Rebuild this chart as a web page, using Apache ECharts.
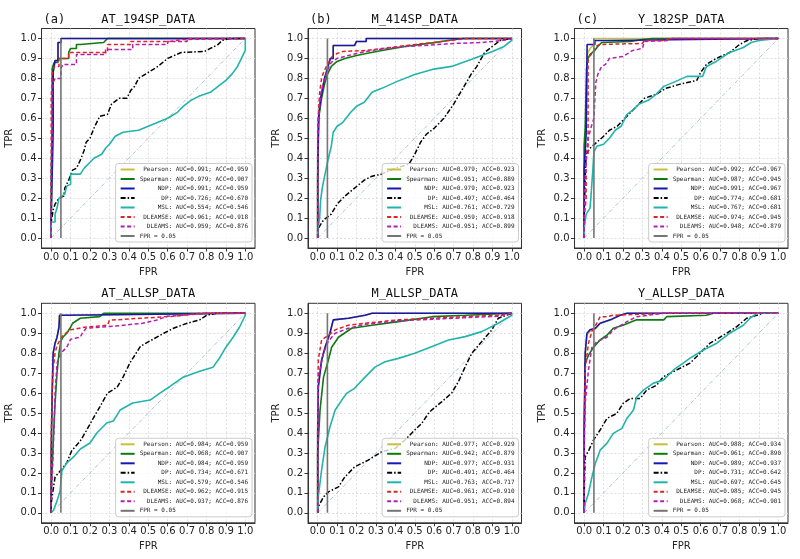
<!DOCTYPE html>
<html><head><meta charset="utf-8">
<script src="https://cdn.jsdelivr.net/npm/echarts@6/dist/echarts.min.js"></script>
<style>html,body{margin:0;padding:0;background:#fff}#c{width:800px;height:559px}</style>
</head><body><div id="c"></div>
<script>
// ---------- data ----------
const panelTitles = ['AT_194SP_DATA','M_414SP_DATA','Y_182SP_DATA','AT_ALLSP_DATA','M_ALLSP_DATA','Y_ALLSP_DATA'];
const panelTags = ['(a)','(b)','(c)','','',''];
const methods = ['Pearson','Spearman','NDP','DP','MSL','DLEAMSE','DLEAMS'];
const tickValues = [0,0.1,0.2,0.3,0.4,0.5,0.6,0.7,0.8,0.9,1.0];

const auc = [
  [0.991,0.979,0.991,0.726,0.554,0.961,0.959],
  [0.979,0.951,0.979,0.497,0.761,0.959,0.951],
  [0.992,0.987,0.991,0.774,0.767,0.974,0.948],
  [0.984,0.968,0.984,0.734,0.579,0.962,0.937],
  [0.977,0.942,0.977,0.491,0.763,0.961,0.951],
  [0.988,0.961,0.989,0.731,0.697,0.985,0.968]
];
const acc = [
  [0.959,0.907,0.959,0.670,0.546,0.918,0.876],
  [0.923,0.889,0.923,0.464,0.729,0.918,0.899],
  [0.967,0.945,0.967,0.681,0.681,0.945,0.879],
  [0.959,0.907,0.959,0.671,0.546,0.915,0.876],
  [0.929,0.879,0.931,0.464,0.717,0.910,0.894],
  [0.934,0.890,0.937,0.642,0.645,0.945,0.901]
];
const fprLine = [[0.05,0],[0.05,1]];
const diagLine = [[0,0],[1,1]];

// (a) AT_194SP
const a_ndp = [[0,0],[0,0.1],[0.01,0.55],[0.01,0.83],[0.02,0.83],[0.02,0.89],[0.035,0.89],[0.035,0.98],[0.05,0.98],[0.05,1],[1,1]];
const a_pearson = a_ndp;
const a_spearman = [[0,0],[0,0.3],[0.005,0.6],[0.005,0.85],[0.015,0.85],[0.015,0.88],[0.035,0.88],[0.035,0.9],[0.09,0.9],[0.09,0.93],[0.1,0.93],[0.1,0.95],[0.13,0.95],[0.13,0.97],[0.15,0.97],[0.15,0.98],[0.27,0.98],[0.29,1],[1,1]];
const a_dp = [[0,0],[0,0.08],[0.01,0.14],[0.02,0.17],[0.04,0.2],[0.065,0.21],[0.07,0.25],[0.09,0.29],[0.11,0.34],[0.13,0.35],[0.15,0.39],[0.17,0.44],[0.18,0.48],[0.2,0.5],[0.22,0.55],[0.25,0.61],[0.29,0.62],[0.31,0.67],[0.35,0.7],[0.39,0.7],[0.41,0.74],[0.43,0.76],[0.45,0.8],[0.5,0.83],[0.55,0.86],[0.6,0.9],[0.67,0.93],[0.79,0.935],[0.82,0.95],[0.86,0.97],[0.88,0.99],[0.92,1],[1,1]];
const a_msl = [[0,0],[0,0.08],[0.02,0.08],[0.02,0.12],[0.03,0.15],[0.04,0.2],[0.07,0.22],[0.08,0.26],[0.1,0.27],[0.1,0.32],[0.15,0.32],[0.17,0.35],[0.2,0.38],[0.22,0.4],[0.26,0.42],[0.28,0.45],[0.3,0.47],[0.33,0.51],[0.37,0.53],[0.45,0.54],[0.5,0.56],[0.55,0.58],[0.6,0.6],[0.65,0.63],[0.68,0.66],[0.72,0.69],[0.76,0.71],[0.82,0.73],[0.86,0.76],[0.9,0.79],[0.93,0.82],[0.96,0.86],[0.98,0.9],[1,0.94],[1,1]];
const a_dleamse = [[0,0],[0,0.7],[0.005,0.7],[0.005,0.82],[0.015,0.82],[0.015,0.86],[0.04,0.86],[0.04,0.9],[0.09,0.9],[0.09,0.93],[0.29,0.93],[0.29,0.97],[0.41,0.97],[0.41,0.985],[0.61,0.985],[0.61,0.995],[0.68,0.995],[0.68,1],[1,1]];
const a_dleams = [[0,0],[0,0.3],[0.005,0.5],[0.005,0.7],[0.01,0.78],[0.02,0.8],[0.05,0.8],[0.05,0.85],[0.06,0.87],[0.13,0.87],[0.13,0.92],[0.28,0.92],[0.28,0.945],[0.42,0.945],[0.42,0.97],[0.6,0.97],[0.6,0.985],[0.7,0.985],[0.7,1],[1,1]];

// (b) M_414SP
const b_ndp = [[0,0],[0,0.3],[0.005,0.61],[0.015,0.7],[0.025,0.75],[0.035,0.8],[0.05,0.85],[0.065,0.9],[0.08,0.9],[0.08,0.965],[0.19,0.965],[0.2,0.985],[0.25,0.985],[0.25,1],[1,1]];
const b_pearson = b_ndp;
const b_spearman = [[0,0],[0,0.4],[0.005,0.6],[0.02,0.7],[0.035,0.77],[0.05,0.82],[0.07,0.86],[0.1,0.885],[0.14,0.9],[0.2,0.915],[0.25,0.925],[0.33,0.94],[0.45,0.96],[0.59,0.978],[0.67,0.99],[0.75,1],[1,1]];
const b_dp = [[0,0],[0,0.04],[0.01,0.06],[0.03,0.09],[0.07,0.12],[0.1,0.17],[0.14,0.21],[0.19,0.25],[0.24,0.29],[0.28,0.31],[0.33,0.32],[0.4,0.35],[0.47,0.37],[0.5,0.42],[0.53,0.48],[0.56,0.52],[0.6,0.55],[0.65,0.6],[0.7,0.67],[0.73,0.72],[0.76,0.77],[0.79,0.82],[0.82,0.86],[0.86,0.93],[0.9,0.96],[0.94,0.99],[1,1]];
const b_msl = [[0,0],[0,0.04],[0.01,0.1],[0.015,0.19],[0.025,0.26],[0.04,0.33],[0.055,0.4],[0.07,0.46],[0.08,0.53],[0.1,0.56],[0.13,0.58],[0.17,0.63],[0.2,0.66],[0.24,0.68],[0.28,0.73],[0.33,0.75],[0.41,0.785],[0.5,0.82],[0.59,0.845],[0.69,0.86],[0.79,0.895],[0.9,0.935],[0.96,0.96],[1,0.99],[1,1]];
const b_dleamse = [[0,0],[0,0.55],[0.005,0.65],[0.01,0.73],[0.02,0.8],[0.03,0.83],[0.05,0.87],[0.075,0.91],[0.1,0.925],[0.13,0.935],[0.25,0.94],[0.33,0.95],[0.42,0.96],[0.5,0.97],[0.6,0.98],[0.68,0.99],[0.77,1],[1,1]];
const b_dleams = [[0,0],[0,0.5],[0.005,0.6],[0.015,0.72],[0.03,0.78],[0.05,0.84],[0.07,0.88],[0.1,0.9],[0.14,0.91],[0.2,0.925],[0.28,0.94],[0.35,0.95],[0.45,0.96],[0.55,0.965],[0.7,0.975],[0.85,0.98],[0.95,0.99],[1,1]];

// (c) Y_182SP
const c_pearson = [[0,0],[0,0.45],[0.01,0.55],[0.015,0.92],[0.03,0.95],[0.05,0.97],[0.05,1],[1,1]];
const c_spearman = [[0,0],[0,0.47],[0.005,0.55],[0.01,0.55],[0.012,0.85],[0.02,0.9],[0.03,0.92],[0.05,0.935],[0.07,0.96],[0.09,0.98],[0.24,0.985],[0.3,0.995],[0.35,1],[1,1]];
const c_ndp = [[0,0],[0,0.35],[0.005,0.43],[0.01,0.43],[0.01,0.52],[0.015,0.52],[0.015,0.97],[0.055,0.97],[0.055,0.99],[0.12,0.99],[0.12,1],[1,1]];
const c_dp = [[0,0],[0,0.1],[0.005,0.3],[0.01,0.42],[0.03,0.45],[0.065,0.48],[0.1,0.51],[0.13,0.54],[0.17,0.56],[0.21,0.6],[0.24,0.63],[0.27,0.66],[0.31,0.7],[0.37,0.72],[0.42,0.75],[0.49,0.77],[0.58,0.79],[0.6,0.83],[0.63,0.87],[0.68,0.9],[0.75,0.93],[0.8,0.97],[0.84,0.99],[0.9,1],[1,1]];
const c_msl = [[0,0],[0,0.05],[0.01,0.12],[0.02,0.12],[0.03,0.15],[0.035,0.21],[0.045,0.35],[0.05,0.43],[0.065,0.46],[0.1,0.47],[0.13,0.5],[0.16,0.54],[0.19,0.56],[0.22,0.62],[0.25,0.64],[0.28,0.67],[0.33,0.69],[0.37,0.72],[0.41,0.76],[0.46,0.78],[0.53,0.81],[0.61,0.81],[0.63,0.86],[0.68,0.885],[0.75,0.93],[0.82,0.955],[0.86,0.98],[0.9,0.99],[0.9,1],[1,1]];
const c_dleamse = [[0,0],[0,0.1],[0.01,0.2],[0.01,0.4],[0.02,0.42],[0.02,0.9],[0.035,0.92],[0.05,0.94],[0.06,0.96],[0.08,0.97],[0.3,0.975],[0.31,0.99],[0.4,0.99],[0.45,1],[1,1]];
const c_dleams = [[0,0],[0,0.1],[0.005,0.3],[0.01,0.4],[0.02,0.5],[0.04,0.57],[0.05,0.6],[0.055,0.7],[0.06,0.78],[0.07,0.82],[0.09,0.86],[0.11,0.87],[0.13,0.9],[0.2,0.91],[0.25,0.94],[0.3,0.95],[0.31,0.985],[0.43,0.99],[0.45,1],[1,1]];

// (d) AT_ALLSP
const d_ndp = [[0,0],[0,0.3],[0.005,0.6],[0.01,0.8],[0.02,0.85],[0.03,0.88],[0.04,0.93],[0.043,0.99],[0.07,0.99],[0.08,1],[1,1]];
const d_pearson = d_ndp;
const d_spearman = [[0,0],[0,0.1],[0.01,0.35],[0.02,0.55],[0.03,0.7],[0.04,0.8],[0.05,0.86],[0.06,0.88],[0.08,0.9],[0.1,0.93],[0.11,0.95],[0.15,0.975],[0.25,0.983],[0.27,1],[1,1]];
const d_dp = [[0,0],[0,0.05],[0.02,0.18],[0.046,0.21],[0.08,0.25],[0.105,0.31],[0.15,0.36],[0.18,0.41],[0.22,0.48],[0.25,0.53],[0.29,0.6],[0.34,0.63],[0.37,0.68],[0.405,0.75],[0.46,0.835],[0.525,0.87],[0.58,0.9],[0.63,0.925],[0.7,0.95],[0.765,0.967],[0.8,0.99],[0.85,1],[1,1]];
const d_msl = [[0,0],[0.012,0.013],[0.03,0.06],[0.046,0.11],[0.055,0.21],[0.08,0.25],[0.115,0.28],[0.15,0.32],[0.2,0.35],[0.235,0.4],[0.286,0.45],[0.32,0.46],[0.355,0.515],[0.42,0.55],[0.51,0.565],[0.56,0.6],[0.61,0.632],[0.68,0.68],[0.765,0.71],[0.834,0.73],[0.87,0.78],[0.9,0.83],[0.937,0.88],[0.97,0.93],[1,0.99],[1,1]];
const d_dleamse = [[0,0],[0,0.4],[0.005,0.6],[0.01,0.72],[0.02,0.8],[0.03,0.84],[0.06,0.89],[0.1,0.917],[0.17,0.93],[0.29,0.94],[0.3,0.965],[0.46,0.975],[0.63,0.985],[0.77,1],[1,1]];
const d_dleams = [[0,0],[0,0.05],[0.01,0.3],[0.02,0.6],[0.03,0.75],[0.05,0.8],[0.08,0.83],[0.1,0.87],[0.15,0.88],[0.16,0.9],[0.18,0.925],[0.32,0.935],[0.47,0.95],[0.54,0.965],[0.6,0.985],[0.75,0.995],[0.8,1],[1,1]];

// (e) M_ALLSP
const e_ndp = [[0,0],[0,0.4],[0.003,0.63],[0.02,0.765],[0.038,0.83],[0.063,0.9],[0.08,0.967],[0.158,0.975],[0.244,0.99],[0.28,1],[1,1]];
const e_pearson = e_ndp;
const e_spearman = [[0,0],[0,0.3],[0.012,0.515],[0.03,0.68],[0.055,0.766],[0.072,0.83],[0.107,0.88],[0.175,0.925],[0.28,0.94],[0.416,0.958],[0.59,0.983],[0.76,0.99],[1,1]];
const e_dp = [[0,0],[0.003,0.03],[0.03,0.08],[0.055,0.105],[0.107,0.13],[0.14,0.18],[0.19,0.23],[0.26,0.264],[0.33,0.306],[0.4,0.323],[0.45,0.365],[0.5,0.415],[0.536,0.448],[0.57,0.498],[0.587,0.515],[0.64,0.557],[0.69,0.6],[0.725,0.657],[0.76,0.732],[0.794,0.8],[0.845,0.858],[0.897,0.916],[0.93,0.975],[1,1]];
const e_msl = [[0,0],[0.003,0.08],[0.02,0.214],[0.038,0.33],[0.063,0.43],[0.09,0.515],[0.124,0.565],[0.15,0.6],[0.19,0.624],[0.244,0.68],[0.295,0.73],[0.347,0.757],[0.416,0.774],[0.5,0.8],[0.59,0.833],[0.674,0.866],[0.76,0.883],[0.845,0.908],[0.93,0.95],[1,0.99],[1,1]];
const e_dleamse = [[0,0],[0,0.5],[0.003,0.766],[0.02,0.866],[0.055,0.89],[0.09,0.917],[0.158,0.94],[0.244,0.95],[0.416,0.967],[0.59,0.975],[0.76,0.983],[0.93,0.99],[1,1]];
const e_dleams = [[0,0],[0,0.45],[0.003,0.68],[0.03,0.8],[0.055,0.86],[0.09,0.9],[0.158,0.925],[0.244,0.945],[0.416,0.962],[0.59,0.97],[0.76,0.978],[0.93,0.985],[1,1]];

// (f) Y_ALLSP
const f_pearson = [[0,0],[0,0.4],[0.005,0.79],[0.014,0.89],[0.03,0.91],[0.057,0.92],[0.082,0.95],[0.134,0.965],[0.185,0.99],[0.22,1],[1,1]];
const f_spearman = [[0,0],[0,0.4],[0.005,0.75],[0.022,0.79],[0.048,0.83],[0.082,0.866],[0.117,0.89],[0.15,0.925],[0.2,0.94],[0.27,0.967],[0.41,0.967],[0.425,0.983],[0.63,0.99],[0.665,1],[1,1]];
const f_ndp = [[0,0],[0,0.4],[0.005,0.8],[0.014,0.9],[0.03,0.917],[0.057,0.925],[0.082,0.95],[0.134,0.967],[0.185,0.99],[0.22,1],[1,1]];
const f_dp = [[0,0],[0,0.1],[0.005,0.28],[0.022,0.31],[0.048,0.365],[0.082,0.415],[0.117,0.473],[0.168,0.498],[0.2,0.548],[0.237,0.573],[0.288,0.573],[0.322,0.615],[0.374,0.64],[0.408,0.682],[0.477,0.716],[0.545,0.75],[0.597,0.8],[0.648,0.85],[0.717,0.89],[0.786,0.933],[0.837,0.975],[0.89,0.99],[0.92,1],[1,1]];
const f_msl = [[0,0],[0.005,0.047],[0.022,0.097],[0.04,0.18],[0.057,0.247],[0.082,0.314],[0.117,0.348],[0.15,0.398],[0.194,0.423],[0.22,0.473],[0.254,0.515],[0.27,0.58],[0.305,0.615],[0.357,0.65],[0.408,0.665],[0.46,0.716],[0.51,0.75],[0.545,0.775],[0.614,0.816],[0.683,0.85],[0.75,0.9],[0.82,0.94],[0.854,0.975],[0.89,1],[1,1]];
const f_dleamse = [[0,0],[0,0.4],[0.005,0.716],[0.022,0.85],[0.04,0.91],[0.065,0.95],[0.082,0.983],[0.117,0.983],[0.15,0.99],[0.41,1],[1,1]];
const f_dleams = [[0,0],[0,0.3],[0.005,0.55],[0.022,0.716],[0.04,0.833],[0.065,0.858],[0.117,0.88],[0.15,0.917],[0.22,0.958],[0.27,0.983],[0.41,1],[1,1]];

const curves = [
  [a_pearson,a_spearman,a_ndp,a_dp,a_msl,a_dleamse,a_dleams],
  [b_pearson,b_spearman,b_ndp,b_dp,b_msl,b_dleamse,b_dleams],
  [c_pearson,c_spearman,c_ndp,c_dp,c_msl,c_dleamse,c_dleams],
  [d_pearson,d_spearman,d_ndp,d_dp,d_msl,d_dleamse,d_dleams],
  [e_pearson,e_spearman,e_ndp,e_dp,e_msl,e_dleamse,e_dleams],
  [f_pearson,f_spearman,f_ndp,f_dp,f_msl,f_dleamse,f_dleams]
];

// ---------- styles / layout ----------
const lineStyles = [
  {color:'#c8c03c', type:'solid', width:1.6},
  {color:'#0f7a0f', type:'solid', width:1.6},
  {color:'#1616b4', type:'solid', width:1.6},
  {color:'#000000', type:[5,2,1.5,2], width:1.5},
  {color:'#22b4ac', type:'solid', width:1.6},
  {color:'#e02424', type:[4,2.5], width:1.5},
  {color:'#b31fb3', type:[4,2.5], width:1.5}
];
const colLefts = [41.5, 308, 574.5];
const rowTops = [28.5, 303.3];
const W = 213.5, H = 219.5;
const MONO = 'DejaVu Sans Mono';

const grids=[], xAxes=[], yAxes=[], series=[], legends=[], graphics=[];
for (let p=0;p<6;p++){
  const left = colLefts[p%3], top = rowTops[Math.floor(p/3)];
  grids.push({left:left, top:top, width:W, height:H, show:true, borderColor:'#333', borderWidth:1, backgroundColor:'#fff'});
  const axisCommon = {
    type:'value', min:-0.05, max:1.05, gridIndex:p,
    axisLine:{show:true, onZero:false, lineStyle:{color:'#333', width:1}},
    axisTick:{show:true, length:3.5, customValues:tickValues, lineStyle:{color:'#333'}},
    axisLabel:{customValues:tickValues, formatter:v=>v.toFixed(1), color:'#222', fontSize:10, fontFamily:'DejaVu Sans'},
    splitLine:{show:true, lineStyle:{color:'#d6d6d6', type:[2,2], width:0.8}},
    nameLocation:'middle', nameTextStyle:{fontSize:10, color:'#222', fontFamily:'DejaVu Sans'}
  };
  xAxes.push(Object.assign({}, axisCommon, {name:'FPR', nameGap:19, axisLabel:Object.assign({}, axisCommon.axisLabel, {margin:4})}));
  yAxes.push(Object.assign({}, axisCommon, {name:'TPR', nameGap:27, axisLabel:Object.assign({}, axisCommon.axisLabel, {margin:5})}));

  series.push({type:'line', name:'diag'+p, xAxisIndex:p, yAxisIndex:p, data:diagLine, symbol:'none', silent:true,
    lineStyle:{color:'#9fb2c4', width:0.8, type:[4,2,1,2]}});
  const names=[];
  methods.forEach((m,k)=>{
    const nm = (m+':').padStart(9,' ') + ' AUC=' + auc[p][k].toFixed(3) + '; ACC=' + acc[p][k].toFixed(3);
    names.push(nm);
    series.push({type:'line', name:nm, xAxisIndex:p, yAxisIndex:p, data:curves[p][k], symbol:'none',
      lineStyle:lineStyles[k], itemStyle:{color:lineStyles[k].color}});
  });
  names.push('FPR = 0.05');
  series.push({type:'line', name:'FPR = 0.05', xAxisIndex:p, yAxisIndex:p, data:fprLine, symbol:'none',
    lineStyle:{color:'#757575', width:1.6}, itemStyle:{color:'#757575'}});

  legends.push({
    data:names, orient:'vertical', right:800-(left+W-3), bottom:559-(top+H-6),
    itemWidth:14, itemHeight:6, itemGap:3.5, padding:[3,4,3,4],
    itemStyle:{color:'rgba(0,0,0,0)', borderWidth:0, opacity:0},
    backgroundColor:'rgba(255,255,255,0.8)', borderColor:'#cccccc', borderWidth:1, borderRadius:3,
    textStyle:{fontSize:6, fontFamily:MONO, color:'#222'}, selectedMode:false
  });

  graphics.push({type:'text', x:left+W/2, y:top-9, silent:true,
    style:{text:panelTitles[p], font:'12px "'+MONO+'"', fill:'#111', textAlign:'center', textVerticalAlign:'middle'}});
  if (panelTags[p]) graphics.push({type:'text', x:left+2, y:top-9, silent:true,
    style:{text:panelTags[p], font:'12px "'+MONO+'"', fill:'#111', textAlign:'left', textVerticalAlign:'middle'}});
}

const chart = echarts.init(document.getElementById('c'), null, {renderer:'canvas'});
chart.setOption({
  animation:false, backgroundColor:'#fff',
  grid:grids, xAxis:xAxes, yAxis:yAxes, series:series, legend:legends, graphic:graphics
});
</script></body></html>
